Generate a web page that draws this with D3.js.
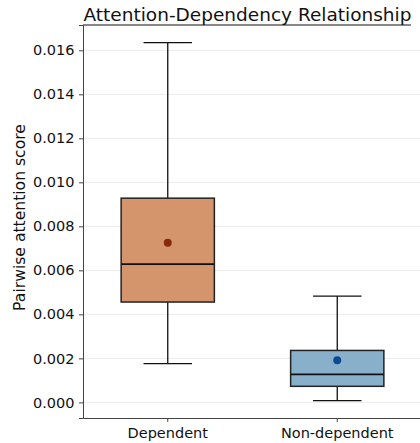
<!DOCTYPE html>
<html>
<head>
<meta charset="utf-8">
<script src="https://cdn.jsdelivr.net/npm/d3@7/dist/d3.min.js"></script>
<style>
  body { margin: 0; background: #fff; }
  text { font-family: "DejaVu Sans", sans-serif; }
</style>
</head>
<body>
<div id="chart"></div>
<script>
// data
const categories = ["Dependent", "Non-dependent"];
const whiskerLow = [0.00176, 0.00008];
const q1 = [0.00456, 0.00073];
const median = [0.00628, 0.00127];
const q3 = [0.00928, 0.00236];
const whiskerHigh = [0.01635, 0.00483];
const means = [0.00725, 0.00191];
const yTicks = [0, 0.002, 0.004, 0.006, 0.008, 0.01, 0.012, 0.014, 0.016];

const boxColors = ["#d4956d", "#88b0ca"];
const dotColors = ["#8b2a0a", "#0d4a94"];

const W = 420, H = 443;
const margin = {top: 25, right: 0, bottom: 25, left: 83};
const width = 339, height = H - margin.top - margin.bottom;

const svg = d3.select("#chart").append("svg")
    .attr("width", W).attr("height", H);

const g = svg.append("g").attr("transform", `translate(${margin.left},${margin.top})`);

const x = d3.scaleBand().domain(categories).range([0, width]).paddingInner(0).paddingOuter(0);
const y = d3.scaleLinear().domain([-0.00071, 0.01715]).range([height, 0]);

// grid
g.append("g").selectAll("line").data(yTicks).enter().append("line")
    .attr("x1", 0).attr("x2", W - margin.left)
    .attr("y1", d => y(d)).attr("y2", d => y(d))
    .attr("stroke", "#ebebeb").attr("stroke-width", 1);

// boxes
const boxW = x.bandwidth() * 0.55;
const capW = boxW * 0.52;
categories.forEach((c, i) => {
    const cx = x(c) + x.bandwidth() / 2;
    const bg = g.append("g");
    bg.append("line").attr("x1", cx).attr("x2", cx)
        .attr("y1", y(whiskerHigh[i])).attr("y2", y(q3[i]))
        .attr("stroke", "#111").attr("stroke-width", 1.3);
    bg.append("line").attr("x1", cx).attr("x2", cx)
        .attr("y1", y(q1[i])).attr("y2", y(whiskerLow[i]))
        .attr("stroke", "#111").attr("stroke-width", 1.3);
    [whiskerHigh[i], whiskerLow[i]].forEach(v => {
        bg.append("line").attr("x1", cx - capW / 2).attr("x2", cx + capW / 2)
            .attr("y1", y(v)).attr("y2", y(v))
            .attr("stroke", "#111").attr("stroke-width", 1.3);
    });
    bg.append("rect")
        .attr("x", cx - boxW / 2).attr("width", boxW)
        .attr("y", y(q3[i])).attr("height", y(q1[i]) - y(q3[i]))
        .attr("fill", boxColors[i]).attr("stroke", "#222").attr("stroke-width", 1.5);
    bg.append("line").attr("x1", cx - boxW / 2).attr("x2", cx + boxW / 2)
        .attr("y1", y(median[i])).attr("y2", y(median[i]))
        .attr("stroke", "#111").attr("stroke-width", 1.8);
    bg.append("circle").attr("cx", cx).attr("cy", y(means[i])).attr("r", 4)
        .attr("fill", dotColors[i]);
});

// axes
const yAxis = g.append("g").call(d3.axisLeft(y).tickValues(yTicks).tickFormat(d3.format(".3f")).tickSize(4).tickPadding(4.5));
yAxis.select(".domain").attr("stroke", "#444");
yAxis.selectAll(".tick line").attr("stroke", "#444");
yAxis.selectAll("text").style("font-size", "14.5px").attr("fill", "#111");

const xAxis = g.append("g").attr("transform", `translate(0,${height})`)
    .call(d3.axisBottom(x).tickSize(4).tickPadding(6).tickSizeOuter(0));
xAxis.select(".domain").attr("stroke", "#444");
xAxis.selectAll(".tick line").attr("stroke", "#444");
xAxis.selectAll("text").style("font-size", "14.5px").attr("fill", "#111");

// top line
g.append("line").attr("x1", 0).attr("x2", 328).attr("y1", 0).attr("y2", 0)
    .attr("stroke", "#111").attr("stroke-width", 1);

// title
svg.append("text")
    .attr("x", 247.5).attr("y", 20.5)
    .attr("text-anchor", "middle")
    .style("font-size", "18.5px")
    .attr("fill", "#111")
    .text("Attention-Dependency Relationship");

// y label
svg.append("text")
    .attr("transform", `translate(24.5,217.5) rotate(-90)`)
    .attr("text-anchor", "middle")
    .style("font-size", "15.6px")
    .attr("fill", "#111")
    .text("Pairwise attention score");
</script>
</body>
</html>
